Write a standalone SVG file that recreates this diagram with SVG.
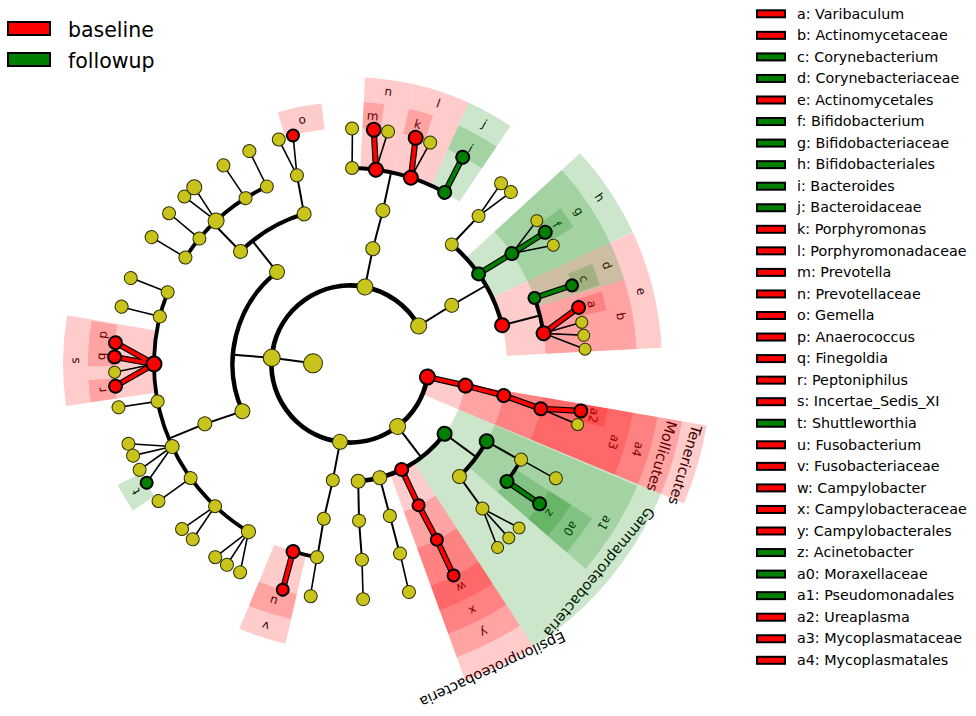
<svg xmlns="http://www.w3.org/2000/svg" width="976" height="716" viewBox="0 0 976 716">
<style>
text{font-family:"DejaVu Sans","Liberation Sans",Arial,sans-serif;fill:#000}
.lg{font-size:20.5px}
.le{font-size:14.3px}
.lb{font-size:12px;text-anchor:middle;dominant-baseline:central}
.cl{font-size:14.5px;text-anchor:middle;dominant-baseline:central}
.br{fill:#ff0000;stroke:#000;stroke-width:2}
.bg{fill:#008000;stroke:#000;stroke-width:2}
.wr{fill:none;stroke:#ff0000;stroke-opacity:.2}
.wg{fill:none;stroke:#008000;stroke-opacity:.2}
.w5{stroke-width:26}
.w4{stroke-width:91}
.w3{stroke-width:155}
.w2{stroke-width:219.5}
.w1{stroke-width:283.5}
.arc{fill:none;stroke:#000}
.e{stroke:#000;stroke-width:2}
.f{stroke:#000;stroke-width:1.6}
.k{stroke:#000;stroke-width:6.2}
.er{stroke:#ff0000;stroke-width:3.8}
.eg{stroke:#008000;stroke-width:3.8}
.ny{fill:#c9c41b;stroke:#2b2b00;stroke-width:1}
.nr{fill:#ff0000;stroke:#000;stroke-width:2}
.ng{fill:#008000;stroke:#000;stroke-width:2}
</style>
<rect width="976" height="716" fill="#fff"/>
<g id="legend-groups">
<rect class="br" x="8" y="22" width="42" height="13"/>
<text class="lg" x="68" y="36.5">baseline</text>
<rect class="bg" x="8" y="53" width="42" height="13"/>
<text class="lg" x="68" y="67.5">followup</text>
</g>
<g id="legend-clades">
<rect class="br" x="757" y="10.3" width="28" height="7"/><text class="le" x="797" y="18.5">a: Varibaculum</text>
<rect class="br" x="757" y="31.85" width="28" height="7"/><text class="le" x="797" y="40.05">b: Actinomycetaceae</text>
<rect class="bg" x="757" y="53.4" width="28" height="7"/><text class="le" x="797" y="61.6">c: Corynebacterium</text>
<rect class="bg" x="757" y="74.95" width="28" height="7"/><text class="le" x="797" y="83.15">d: Corynebacteriaceae</text>
<rect class="br" x="757" y="96.5" width="28" height="7"/><text class="le" x="797" y="104.7">e: Actinomycetales</text>
<rect class="bg" x="757" y="118.05" width="28" height="7"/><text class="le" x="797" y="126.25">f: Bifidobacterium</text>
<rect class="bg" x="757" y="139.6" width="28" height="7"/><text class="le" x="797" y="147.8">g: Bifidobacteriaceae</text>
<rect class="bg" x="757" y="161.15" width="28" height="7"/><text class="le" x="797" y="169.35">h: Bifidobacteriales</text>
<rect class="bg" x="757" y="182.7" width="28" height="7"/><text class="le" x="797" y="190.9">i: Bacteroides</text>
<rect class="bg" x="757" y="204.25" width="28" height="7"/><text class="le" x="797" y="212.45">j: Bacteroidaceae</text>
<rect class="br" x="757" y="225.8" width="28" height="7"/><text class="le" x="797" y="234">k: Porphyromonas</text>
<rect class="br" x="757" y="247.35" width="28" height="7"/><text class="le" x="797" y="255.55">l: Porphyromonadaceae</text>
<rect class="br" x="757" y="268.9" width="28" height="7"/><text class="le" x="797" y="277.1">m: Prevotella</text>
<rect class="br" x="757" y="290.45" width="28" height="7"/><text class="le" x="797" y="298.65">n: Prevotellaceae</text>
<rect class="br" x="757" y="312" width="28" height="7"/><text class="le" x="797" y="320.2">o: Gemella</text>
<rect class="br" x="757" y="333.55" width="28" height="7"/><text class="le" x="797" y="341.75">p: Anaerococcus</text>
<rect class="br" x="757" y="355.1" width="28" height="7"/><text class="le" x="797" y="363.3">q: Finegoldia</text>
<rect class="br" x="757" y="376.65" width="28" height="7"/><text class="le" x="797" y="384.85">r: Peptoniphilus</text>
<rect class="br" x="757" y="398.2" width="28" height="7"/><text class="le" x="797" y="406.4">s: Incertae_Sedis_XI</text>
<rect class="bg" x="757" y="419.75" width="28" height="7"/><text class="le" x="797" y="427.95">t: Shuttleworthia</text>
<rect class="br" x="757" y="441.3" width="28" height="7"/><text class="le" x="797" y="449.5">u: Fusobacterium</text>
<rect class="br" x="757" y="462.85" width="28" height="7"/><text class="le" x="797" y="471.05">v: Fusobacteriaceae</text>
<rect class="br" x="757" y="484.4" width="28" height="7"/><text class="le" x="797" y="492.6">w: Campylobacter</text>
<rect class="br" x="757" y="505.95" width="28" height="7"/><text class="le" x="797" y="514.15">x: Campylobacteraceae</text>
<rect class="br" x="757" y="527.5" width="28" height="7"/><text class="le" x="797" y="535.7">y: Campylobacterales</text>
<rect class="bg" x="757" y="549.05" width="28" height="7"/><text class="le" x="797" y="557.25">z: Acinetobacter</text>
<rect class="bg" x="757" y="570.6" width="28" height="7"/><text class="le" x="797" y="578.8">a0: Moraxellaceae</text>
<rect class="bg" x="757" y="592.15" width="28" height="7"/><text class="le" x="797" y="600.35">a1: Pseudomonadales</text>
<rect class="br" x="757" y="613.7" width="28" height="7"/><text class="le" x="797" y="621.9">a2: Ureaplasma</text>
<rect class="br" x="757" y="635.25" width="28" height="7"/><text class="le" x="797" y="643.45">a3: Mycoplasmataceae</text>
<rect class="br" x="757" y="656.8" width="28" height="7"/><text class="le" x="797" y="665">a4: Mycoplasmatales</text>
</g>
<g id="cladogram" transform="translate(350,364)">
<g id="labels">
<text class="lb" transform="rotate(346.1) translate(249,0) rotate(90)">a</text>
<text class="lb" transform="rotate(340) translate(249,0) rotate(90)">c</text>
<text class="lb" transform="rotate(326) translate(249,0) rotate(90)">f</text>
<text class="lb" transform="rotate(299.25) translate(247,0) rotate(90)">i</text>
<text class="lb" transform="rotate(285.75) translate(249,0) rotate(90)">k</text>
<text class="lb" transform="rotate(275.25) translate(249,0) rotate(90)">m</text>
<text class="lb" transform="rotate(258.9) translate(249,0) rotate(90)">o</text>
<text class="lb" transform="rotate(186.75) translate(249,0) rotate(90)">p</text>
<text class="lb" transform="rotate(181.75) translate(249,0) rotate(90)">q</text>
<text class="lb" transform="rotate(174) translate(249,0) rotate(90)">r</text>
<text class="lb" transform="rotate(149.25) translate(249,0) rotate(90)">t</text>
<text class="lb" transform="rotate(107.85) translate(249,0) rotate(90)">u</text>
<text class="lb" transform="rotate(63.5) translate(249,0) rotate(90)">w</text>
<text class="lb" transform="rotate(36.75) translate(249,0) rotate(90)">z</text>
<text class="lb" transform="rotate(11.9) translate(249,0) rotate(90)">a2</text>
<text class="lb" transform="rotate(350) translate(275,0) rotate(90)">b</text>
<text class="lb" transform="rotate(339) translate(275,0) rotate(90)">d</text>
<text class="lb" transform="rotate(326.25) translate(275,0) rotate(90)">g</text>
<text class="lb" transform="rotate(299.25) translate(275,0) rotate(90)">j</text>
<text class="lb" transform="rotate(288.75) translate(275,0) rotate(90)">l</text>
<text class="lb" transform="rotate(278) translate(275,0) rotate(90)">n</text>
<text class="lb" transform="rotate(180.7) translate(275,0) rotate(90)">s</text>
<text class="lb" transform="rotate(107.85) translate(275,0) rotate(90)">v</text>
<text class="lb" transform="rotate(63.5) translate(275,0) rotate(90)">x</text>
<text class="lb" transform="rotate(36.75) translate(275,0) rotate(90)">a0</text>
<text class="lb" transform="rotate(16.5) translate(275,0) rotate(90)">a3</text>
<text class="lb" transform="rotate(346) translate(300,0) rotate(90)">e</text>
<text class="lb" transform="rotate(326.25) translate(300,0) rotate(90)">h</text>
<text class="lb" transform="rotate(63.5) translate(300,0) rotate(90)">y</text>
<text class="lb" transform="rotate(32) translate(300,0) rotate(90)">a1</text>
<text class="lb" transform="rotate(16.5) translate(300,0) rotate(90)">a4</text>
<text class="cl" transform="rotate(16.5) translate(325,0) rotate(90)">Mollicutes</text>
<text class="cl" transform="rotate(16.8) translate(350,0) rotate(90)">Tenericutes</text>
<text class="cl" transform="rotate(39.9) translate(325,0) rotate(90)">Gammaproteobacteria</text>
<text class="cl" transform="rotate(65) translate(337,0) rotate(90)">Epsilonproteobacteria</text>
</g>
<g id="wedges">
<circle class="wr w1" r="220.25" stroke-dasharray="49.59 2000" transform="rotate(9.8)"/>
<circle class="wr w2" r="227.25" stroke-dasharray="51.17 2000" transform="rotate(9.8)"/>
<circle class="wr w3" r="234.5" stroke-dasharray="52.80 2000" transform="rotate(9.8)"/>
<circle class="wr w4" r="241.5" stroke-dasharray="54.37 2000" transform="rotate(9.8)"/>
<circle class="wr w5" r="249" stroke-dasharray="18.25 2000" transform="rotate(9.8)"/>
<circle class="wr w2" r="227.25" stroke-dasharray="51.56 2000" transform="rotate(57)"/>
<circle class="wr w3" r="234.5" stroke-dasharray="53.21 2000" transform="rotate(57)"/>
<circle class="wr w4" r="241.5" stroke-dasharray="54.80 2000" transform="rotate(57)"/>
<circle class="wr w5" r="249" stroke-dasharray="56.50 2000" transform="rotate(57)"/>
<circle class="wr w4" r="241.5" stroke-dasharray="40.89 2000" transform="rotate(103)"/>
<circle class="wr w5" r="249" stroke-dasharray="42.15 2000" transform="rotate(103)"/>
<circle class="wr w4" r="241.5" stroke-dasharray="76.71 2000" transform="rotate(171.6)"/>
<circle class="wr w5" r="249" stroke-dasharray="21.29 2000" transform="rotate(171.6)"/>
<circle class="wr w5" r="249" stroke-dasharray="19.56 2000" transform="rotate(179.5)"/>
<circle class="wr w5" r="249" stroke-dasharray="23.90 2000" transform="rotate(184)"/>
<circle class="wr w5" r="249" stroke-dasharray="42.59 2000" transform="rotate(254)"/>
<circle class="wr w4" r="241.5" stroke-dasharray="42.15 2000" transform="rotate(273)"/>
<circle class="wr w5" r="249" stroke-dasharray="19.56 2000" transform="rotate(273)"/>
<circle class="wr w4" r="241.5" stroke-dasharray="48.47 2000" transform="rotate(283)"/>
<circle class="wr w5" r="249" stroke-dasharray="23.90 2000" transform="rotate(283)"/>
<circle class="wr w3" r="234.5" stroke-dasharray="90.04 2000" transform="rotate(335)"/>
<circle class="wr w4" r="241.5" stroke-dasharray="59.01 2000" transform="rotate(343)"/>
<circle class="wr w5" r="249" stroke-dasharray="18.25 2000" transform="rotate(344)"/>
<circle class="wg w2" r="227.25" stroke-dasharray="136.04 2000" transform="rotate(22.7)"/>
<circle class="wg w3" r="234.5" stroke-dasharray="73.67 2000" transform="rotate(23)"/>
<circle class="wg w4" r="241.5" stroke-dasharray="35.83 2000" transform="rotate(32.5)"/>
<circle class="wg w5" r="249" stroke-dasharray="36.94 2000" transform="rotate(32.5)"/>
<circle class="wg w5" r="249" stroke-dasharray="28.25 2000" transform="rotate(146)"/>
<circle class="wg w4" r="241.5" stroke-dasharray="40.04 2000" transform="rotate(294.5)"/>
<circle class="wg w5" r="249" stroke-dasharray="41.29 2000" transform="rotate(294.5)"/>
<circle class="wg w3" r="234.5" stroke-dasharray="71.62 2000" transform="rotate(317.5)"/>
<circle class="wg w4" r="241.5" stroke-dasharray="73.76 2000" transform="rotate(317.5)"/>
<circle class="wg w5" r="249" stroke-dasharray="21.73 2000" transform="rotate(323.5)"/>
<circle class="wg w4" r="241.5" stroke-dasharray="33.72 2000" transform="rotate(335)"/>
<circle class="wg w5" r="249" stroke-dasharray="21.73 2000" transform="rotate(337.5)"/>
</g>
<g id="connectors">
<circle class="arc" r="78.5" stroke-width="4.8" stroke-dasharray="440.48 2000" transform="rotate(9.5)"/>
<circle class="arc" r="117.5" stroke-width="4.4" stroke-dasharray="154.42 2000" transform="rotate(156.3)"/>
<circle class="arc" r="117.5" stroke-width="4.4" stroke-dasharray="101.72 2000" transform="rotate(36.4)"/>
<circle class="arc" r="157" stroke-width="4.2" stroke-dasharray="74.53 2000" transform="rotate(225.8)"/>
<circle class="arc" r="157" stroke-width="4.2" stroke-dasharray="96.73 2000" transform="rotate(310.4)"/>
<circle class="arc" r="157" stroke-width="4.2" stroke-dasharray="44.66 2000" transform="rotate(29.5)"/>
<circle class="arc" r="196" stroke-width="3.8" stroke-dasharray="109.47 2000" transform="rotate(212.9)"/>
<circle class="arc" r="196" stroke-width="3.8" stroke-dasharray="274.69 2000" transform="rotate(121.2)"/>
<circle class="arc" r="196" stroke-width="3.8" stroke-dasharray="96.81 2000" transform="rotate(270.6)"/>
<circle class="arc" r="196" stroke-width="3.8" stroke-dasharray="36.60 2000" transform="rotate(340.3)"/>
<circle class="arc" r="196" stroke-width="3.8" stroke-dasharray="26.0 2000" transform="rotate(29.2)"/>
<circle class="arc" r="196" stroke-width="3.8" stroke-dasharray="25.31 2000" transform="rotate(99.5)"/>
<g class="e">
<line x1="37" x2="78.35" y2="4.79" transform="rotate(181)"/>
<line x1="78.5" x2="117.5" transform="rotate(184.5)"/>
<line x1="117.5" x2="157" transform="rotate(231.6)"/>
<line x1="157" x2="196" transform="rotate(225.8)"/>
<line x1="157" x2="195.95" y2="4.45" transform="rotate(253)"/>
<line x1="117.5" x2="156.96" y2="3.56" transform="rotate(156.3)"/>
<line x1="157" x2="196" transform="rotate(157.6)"/>
<line x1="78.5" x2="117.5" y2="0.41" transform="rotate(281)"/>
<line x1="117.5" x2="156.98" y2="2.47" transform="rotate(281.2)"/>
<line x1="157" x2="196" transform="rotate(282.1)"/>
<line x1="78.5" x2="117.48" y2="-2.05" transform="rotate(331)"/>
<line x1="117.5" x2="157" transform="rotate(330)"/>
<line x1="157" x2="195.99" y2="2.05" transform="rotate(310.4)"/>
<line x1="157" x2="196" transform="rotate(345.7)"/>
<line x1="78.5" x2="117.5" transform="rotate(52.7)"/>
<line x1="117.5" x2="157" transform="rotate(36.4)"/>
<line x1="157" x2="196" transform="rotate(29.5)"/>
<line x1="157" x2="195.91" y2="5.81" transform="rotate(45.8)"/>
<line x1="117.5" x2="196" transform="rotate(75.3)"/>
<line x1="117.5" x2="156.99" y2="1.92" transform="rotate(86)"/>
<line x1="157" x2="196" y2="-0.68" transform="rotate(86.7)"/>
<line x1="78.5" x2="117.48" y2="2.26" transform="rotate(97.3)"/>
<line x1="117.5" x2="156.97" y2="3.29" transform="rotate(98.4)"/>
<line x1="157" x2="196" transform="rotate(99.6)"/>
</g>
<g class="f">
<line x1="196" x2="235.5" y2="-1.23" transform="rotate(212.9)"/>
<line x1="196" x2="235.5" transform="rotate(219.8)"/>
<line x1="196" x2="235.41" y2="-6.58" transform="rotate(226.9)"/>
<line x1="196" x2="235.4" y2="6.99" transform="rotate(226.9)"/>
<line x1="196" x2="235.5" y2="-1.23" transform="rotate(237.8)"/>
<line x1="196" x2="235.5" y2="-0.82" transform="rotate(244.9)"/>
<line x1="196" x2="235.37" y2="-7.81" transform="rotate(254.3)"/>
<line x1="196" x2="235.4" y2="6.99" transform="rotate(254.3)"/>
<line x1="196" x2="235.5" transform="rotate(201.5)"/>
<line x1="196" x2="235.5" transform="rotate(194)"/>
<line x1="196" x2="235.36" y2="-8.22" transform="rotate(180)"/>
<line x1="196" x2="235.5" y2="1.64" transform="rotate(169)"/>
<line x1="196" x2="234.57" y2="20.93" transform="rotate(155.1)"/>
<line x1="196" x2="235.36" y2="8.22" transform="rotate(155.1)"/>
<line x1="196" x2="235.38" y2="-7.4" transform="rotate(155.1)"/>
<line x1="196" x2="234.45" y2="-22.16" transform="rotate(155.1)"/>
<line x1="196" x2="235.5" transform="rotate(144.4)"/>
<line x1="196" x2="235.36" y2="8.22" transform="rotate(133.5)"/>
<line x1="196" x2="235.41" y2="-6.58" transform="rotate(133.5)"/>
<line x1="196" x2="235.01" y2="15.2" transform="rotate(121.2)"/>
<line x1="196" x2="235.49" y2="1.23" transform="rotate(121.2)"/>
<line x1="196" x2="235.09" y2="-13.97" transform="rotate(121.2)"/>
<line x1="196" x2="235.5" transform="rotate(270.6)"/>
<line x1="196" x2="235.4" y2="6.99" transform="rotate(277.6)"/>
<line x1="196" x2="235.38" y2="7.4" transform="rotate(288.1)"/>
<line x1="196" x2="235.46" y2="-4.52" transform="rotate(311)"/>
<line x1="196" x2="235.34" y2="8.63" transform="rotate(311)"/>
<line x1="196" x2="235.13" y2="-13.15" transform="rotate(325.7)"/>
<line x1="196" x2="234.93" y2="16.43" transform="rotate(325.7)"/>
<line x1="196" x2="235.45" y2="-4.93" transform="rotate(351)"/>
<line x1="196" x2="235.36" y2="8.22" transform="rotate(351)"/>
<line x1="196" x2="234.45" y2="22.16" transform="rotate(351)"/>
<line x1="196" x2="235.4" y2="6.99" transform="rotate(13.2)"/>
<line x1="196" x2="235.5" transform="rotate(29.2)"/>
<line x1="196" x2="235.09" y2="-13.97" transform="rotate(47.5)"/>
<line x1="196" x2="235.5" y2="0.41" transform="rotate(47.5)"/>
<line x1="196" x2="235.01" y2="15.2" transform="rotate(47.5)"/>
<line x1="196" x2="235.5" y2="1.23" transform="rotate(75.2)"/>
<line x1="196" x2="235.5" y2="1.23" transform="rotate(86.5)"/>
<line x1="196" x2="235.5" transform="rotate(99.7)"/>
</g>
<g class="k">
<line x1="78.5" x2="117.48" y2="2.26" transform="rotate(9.5)"/>
<line x1="117.5" x2="156.98" y2="2.74" transform="rotate(10.6)"/>
<line x1="157" x2="195.92" y2="5.47" transform="rotate(11.6)"/>
<line x1="196" x2="235.4" y2="-6.99" transform="rotate(13.2)"/>
<line x1="117.5" x2="157" y2="0.55" transform="rotate(63.9)"/>
<line x1="157" x2="196" y2="-1.37" transform="rotate(64.1)"/>
<line x1="196" x2="235.5" y2="0.82" transform="rotate(63.7)"/>
<line x1="196" x2="235.5" y2="-1.23" transform="rotate(106.9)"/>
<line x1="196" x2="235.38" y2="-7.4" transform="rotate(277.6)"/>
<line x1="196" x2="235.37" y2="-7.81" transform="rotate(288.1)"/>
<line x1="196" x2="234.64" y2="-20.12" transform="rotate(351)"/>
<line x1="196" x2="234.53" y2="21.34" transform="rotate(180)"/>
<line x1="196" x2="235.4" y2="6.99" transform="rotate(180)"/>
<line x1="196" x2="234.45" y2="-22.16" transform="rotate(180)"/>
<line x1="157" x2="195.99" y2="2.39" transform="rotate(325)"/>
<line x1="196" x2="235.5" y2="1.23" transform="rotate(325.7)"/>
<line x1="196" x2="235.5" y2="0.82" transform="rotate(340.3)"/>
<line x1="196" x2="235.5" y2="-1.23" transform="rotate(298.9)"/>
<line x1="196" x2="235.5" y2="-1.64" transform="rotate(36.8)"/>
</g>
<g class="er">
<line x1="78.5" x2="117.48" y2="2.26" transform="rotate(9.5)"/>
<line x1="117.5" x2="156.98" y2="2.74" transform="rotate(10.6)"/>
<line x1="157" x2="195.92" y2="5.47" transform="rotate(11.6)"/>
<line x1="196" x2="235.4" y2="-6.99" transform="rotate(13.2)"/>
<line x1="117.5" x2="157" y2="0.55" transform="rotate(63.9)"/>
<line x1="157" x2="196" y2="-1.37" transform="rotate(64.1)"/>
<line x1="196" x2="235.5" y2="0.82" transform="rotate(63.7)"/>
<line x1="196" x2="235.5" y2="-1.23" transform="rotate(106.9)"/>
<line x1="196" x2="235.38" y2="-7.4" transform="rotate(277.6)"/>
<line x1="196" x2="235.37" y2="-7.81" transform="rotate(288.1)"/>
<line x1="196" x2="234.64" y2="-20.12" transform="rotate(351)"/>
<line x1="196" x2="234.53" y2="21.34" transform="rotate(180)"/>
<line x1="196" x2="235.4" y2="6.99" transform="rotate(180)"/>
<line x1="196" x2="234.45" y2="-22.16" transform="rotate(180)"/>
</g>
<g class="eg">
<line x1="157" x2="195.99" y2="2.39" transform="rotate(325)"/>
<line x1="196" x2="235.5" y2="1.23" transform="rotate(325.7)"/>
<line x1="196" x2="235.5" y2="0.82" transform="rotate(340.3)"/>
<line x1="196" x2="235.5" y2="-1.23" transform="rotate(298.9)"/>
<line x1="196" x2="235.5" y2="-1.64" transform="rotate(36.8)"/>
</g>
</g>
<g id="nodes">
<g id="root"><circle class="ny" cx="37" r="9.5" transform="rotate(181)"/></g>
<g id="p_firmicutes"><circle class="ny" cx="78.5" r="8.5" transform="rotate(184.5)"/></g>
<g id="p_bacteroidetes"><circle class="ny" cx="78.5" r="8" transform="rotate(281)"/></g>
<g id="p_actinobacteria"><circle class="ny" cx="78.5" r="8" transform="rotate(331)"/></g>
<g id="p_tenericutes"><circle class="nr" cx="78.5" r="7.5" transform="rotate(9.5)"/></g>
<g id="p_proteobacteria"><circle class="ny" cx="78.5" r="8" transform="rotate(52.7)"/></g>
<g id="p_fusobacteria"><circle class="ny" cx="78.5" r="7.5" transform="rotate(97.3)"/></g>
<g id="c_bacilli"><circle class="ny" cx="117.5" r="7.5" transform="rotate(231.6)"/></g>
<g id="c_clostridia"><circle class="ny" cx="117.5" r="7.5" transform="rotate(156.3)"/></g>
<g id="c_bacteroidia"><circle class="ny" cx="117.5" r="7" transform="rotate(281.2)"/></g>
<g id="c_actinobacteria"><circle class="ny" cx="117.5" r="7" transform="rotate(330)"/></g>
<g id="c_mollicutes"><circle class="nr" cx="117.5" r="7" transform="rotate(10.6)"/></g>
<g id="c_gamma"><circle class="ng" cx="117.5" r="7" transform="rotate(36.4)"/></g>
<g id="c_epsilon"><circle class="nr" cx="117.5" r="6.5" transform="rotate(63.9)"/></g>
<g id="c_prot3"><circle class="ny" cx="117.5" r="7" transform="rotate(75.3)"/></g>
<g id="c_prot4"><circle class="ny" cx="117.5" r="7" transform="rotate(86)"/></g>
<g id="c_fuso"><circle class="ny" cx="117.5" r="6.5" transform="rotate(98.4)"/></g>
<g id="o_lacto"><circle class="ny" cx="157" r="7" transform="rotate(225.8)"/></g>
<g id="o_gemellales"><circle class="ny" cx="157" r="7" transform="rotate(253)"/></g>
<g id="o_clostridiales"><circle class="ny" cx="157" r="7" transform="rotate(157.6)"/></g>
<g id="o_bacteroidales"><circle class="ny" cx="157" r="7" transform="rotate(282.1)"/></g>
<g id="o_act0"><circle class="ny" cx="157" r="6.5" transform="rotate(310.4)"/></g>
<g id="o_h"><circle class="ng" cx="157" r="6.5" transform="rotate(325)"/></g>
<g id="o_e"><circle class="nr" cx="157" r="7" transform="rotate(345.7)"/></g>
<g id="o_a4"><circle class="nr" cx="157" r="6.5" transform="rotate(11.6)"/></g>
<g id="o_a1"><circle class="ng" cx="157" r="7" transform="rotate(29.5)"/></g>
<g id="o_gam2"><circle class="ny" cx="157" r="7" transform="rotate(45.8)"/></g>
<g id="o_y"><circle class="nr" cx="157" r="6" transform="rotate(64.1)"/></g>
<g id="o_p3"><circle class="ny" cx="157" r="6.5" transform="rotate(75.3)"/></g>
<g id="o_p4"><circle class="ny" cx="157" r="6.5" transform="rotate(86.7)"/></g>
<g id="o_fuso"><circle class="ny" cx="157" r="6.5" transform="rotate(99.6)"/></g>
<g id="f_l1"><circle class="ny" cx="196" r="6.5" transform="rotate(212.9)"/></g>
<g id="f_l2"><circle class="ny" cx="196" r="6.5" transform="rotate(219.8)"/></g>
<g id="f_l3"><circle class="ny" cx="196" r="8" transform="rotate(226.9)"/></g>
<g id="f_l4"><circle class="ny" cx="196" r="6.5" transform="rotate(237.8)"/></g>
<g id="f_l5"><circle class="ny" cx="196" r="6.5" transform="rotate(244.9)"/></g>
<g id="f_gem"><circle class="ny" cx="196" r="6.5" transform="rotate(254.3)"/></g>
<g id="f_c1"><circle class="ny" cx="196" r="6.5" transform="rotate(201.5)"/></g>
<g id="f_c2"><circle class="ny" cx="196" r="6.5" transform="rotate(194)"/></g>
<g id="f_s"><circle class="nr" cx="196" r="7.5" transform="rotate(180)"/></g>
<g id="f_c4"><circle class="ny" cx="196" r="6.5" transform="rotate(169)"/></g>
<g id="f_c5"><circle class="ny" cx="196" r="7" transform="rotate(155.1)"/></g>
<g id="f_c6"><circle class="ny" cx="196" r="6.5" transform="rotate(144.4)"/></g>
<g id="f_c7"><circle class="ny" cx="196" r="6.5" transform="rotate(133.5)"/></g>
<g id="f_c8"><circle class="ny" cx="196" r="7" transform="rotate(121.2)"/></g>
<g id="f_b0"><circle class="ny" cx="196" r="6.5" transform="rotate(270.6)"/></g>
<g id="f_n"><circle class="nr" cx="196" r="7" transform="rotate(277.6)"/></g>
<g id="f_l"><circle class="nr" cx="196" r="7" transform="rotate(288.1)"/></g>
<g id="f_j"><circle class="ng" cx="196" r="6.5" transform="rotate(298.9)"/></g>
<g id="f_a0x"><circle class="ny" cx="196" r="6.5" transform="rotate(311)"/></g>
<g id="f_g"><circle class="ng" cx="196" r="6.5" transform="rotate(325.7)"/></g>
<g id="f_d"><circle class="ng" cx="196" r="6" transform="rotate(340.3)"/></g>
<g id="f_b"><circle class="nr" cx="196" r="7" transform="rotate(351)"/></g>
<g id="f_a3"><circle class="nr" cx="196" r="6.5" transform="rotate(13.2)"/></g>
<g id="f_p1"><circle class="ny" cx="196" r="6.5" transform="rotate(29.2)"/></g>
<g id="f_a0"><circle class="ng" cx="196" r="6.5" transform="rotate(36.8)"/></g>
<g id="f_p2"><circle class="ny" cx="196" r="6.5" transform="rotate(47.5)"/></g>
<g id="f_x"><circle class="nr" cx="196" r="6" transform="rotate(63.7)"/></g>
<g id="f_p3"><circle class="ny" cx="196" r="6.5" transform="rotate(75.2)"/></g>
<g id="f_p4"><circle class="ny" cx="196" r="6.5" transform="rotate(86.5)"/></g>
<g id="f_fu1"><circle class="ny" cx="196" r="6.5" transform="rotate(99.7)"/></g>
<g id="f_v"><circle class="nr" cx="196" r="6.5" transform="rotate(106.9)"/></g>
<g id="g_1"><circle class="ny" cx="235.5" r="6.5" transform="rotate(212.6)"/></g>
<g id="g_2"><circle class="ny" cx="235.5" r="6.5" transform="rotate(219.8)"/></g>
<g id="g_3"><circle class="ny" cx="235.5" r="6.5" transform="rotate(225.3)"/></g>
<g id="g_4"><circle class="ny" cx="235.5" r="7.5" transform="rotate(228.6)"/></g>
<g id="g_5"><circle class="ny" cx="235.5" r="6.5" transform="rotate(237.5)"/></g>
<g id="g_6"><circle class="ny" cx="235.5" r="6.5" transform="rotate(244.7)"/></g>
<g id="g_7"><circle class="ny" cx="235.5" r="6.5" transform="rotate(252.4)"/></g>
<g id="g_o"><circle class="nr" cx="235.5" r="6" transform="rotate(256)"/></g>
<g id="g_8"><circle class="ny" cx="235.5" r="6.5" transform="rotate(201.4)"/></g>
<g id="g_9"><circle class="ny" cx="235.5" r="6.5" transform="rotate(194.1)"/></g>
<g id="g_p"><circle class="nr" cx="235.5" r="6.5" transform="rotate(185.2)"/></g>
<g id="g_q"><circle class="nr" cx="235.5" r="6.5" transform="rotate(181.7)"/></g>
<g id="g_10"><circle class="ny" cx="235.5" r="6" transform="rotate(178)"/></g>
<g id="g_r"><circle class="nr" cx="235.5" r="6.5" transform="rotate(174.6)"/></g>
<g id="g_11"><circle class="ny" cx="235.5" r="6.5" transform="rotate(169.4)"/></g>
<g id="g_12"><circle class="ny" cx="235.5" r="6.5" transform="rotate(160.2)"/></g>
<g id="g_13"><circle class="ny" cx="235.5" r="6.5" transform="rotate(157.1)"/></g>
<g id="g_14"><circle class="ny" cx="235.5" r="6.5" transform="rotate(153.3)"/></g>
<g id="g_t"><circle class="ng" cx="235.5" r="6" transform="rotate(149.7)"/></g>
<g id="g_15"><circle class="ny" cx="235.5" r="6.5" transform="rotate(144.4)"/></g>
<g id="g_16"><circle class="ny" cx="235.5" r="6.5" transform="rotate(135.5)"/></g>
<g id="g_17"><circle class="ny" cx="235.5" r="6.5" transform="rotate(131.9)"/></g>
<g id="g_18"><circle class="ny" cx="235.5" r="6.5" transform="rotate(124.9)"/></g>
<g id="g_19"><circle class="ny" cx="235.5" r="6.5" transform="rotate(121.5)"/></g>
<g id="g_20"><circle class="ny" cx="235.5" r="6.5" transform="rotate(117.8)"/></g>
<g id="g_21"><circle class="ny" cx="235.5" r="6.5" transform="rotate(270.5)"/></g>
<g id="g_m"><circle class="nr" cx="235.5" r="7" transform="rotate(275.8)"/></g>
<g id="g_22"><circle class="ny" cx="235.5" r="6.5" transform="rotate(279.3)"/></g>
<g id="g_k"><circle class="nr" cx="235.5" r="7" transform="rotate(286.2)"/></g>
<g id="g_23"><circle class="ny" cx="235.5" r="6.5" transform="rotate(289.9)"/></g>
<g id="g_i"><circle class="ng" cx="235.5" r="6.5" transform="rotate(298.6)"/></g>
<g id="g_24"><circle class="ny" cx="235.5" r="6.5" transform="rotate(309.9)"/></g>
<g id="g_25"><circle class="ny" cx="235.5" r="6.5" transform="rotate(313.1)"/></g>
<g id="g_f"><circle class="ng" cx="235.5" r="6.5" transform="rotate(326)"/></g>
<g id="g_26"><circle class="ny" cx="235.5" r="6" transform="rotate(322.5)"/></g>
<g id="g_27"><circle class="ny" cx="235.5" r="6" transform="rotate(329.7)"/></g>
<g id="g_c"><circle class="ng" cx="235.5" r="6" transform="rotate(340.5)"/></g>
<g id="g_a"><circle class="nr" cx="235.5" r="6.5" transform="rotate(346.1)"/></g>
<g id="g_28"><circle class="ny" cx="235.5" r="6" transform="rotate(349.8)"/></g>
<g id="g_29"><circle class="ny" cx="235.5" r="6" transform="rotate(353)"/></g>
<g id="g_30"><circle class="ny" cx="235.5" r="6" transform="rotate(356.4)"/></g>
<g id="g_a2"><circle class="nr" cx="235.5" r="6.5" transform="rotate(11.5)"/></g>
<g id="g_31"><circle class="ny" cx="235.5" r="6" transform="rotate(14.9)"/></g>
<g id="g_32"><circle class="ny" cx="235.5" r="6.5" transform="rotate(29.05)"/></g>
<g id="g_z"><circle class="ng" cx="235.5" r="6.5" transform="rotate(36.4)"/></g>
<g id="g_33"><circle class="ny" cx="235.5" r="6" transform="rotate(44.1)"/></g>
<g id="g_34"><circle class="ny" cx="235.5" r="6" transform="rotate(47.6)"/></g>
<g id="g_35"><circle class="ny" cx="235.5" r="6" transform="rotate(51.2)"/></g>
<g id="g_w"><circle class="nr" cx="235.5" r="6" transform="rotate(63.9)"/></g>
<g id="g_36"><circle class="ny" cx="235.5" r="6.5" transform="rotate(75.5)"/></g>
<g id="g_37"><circle class="ny" cx="235.5" r="6.5" transform="rotate(86.8)"/></g>
<g id="g_38"><circle class="ny" cx="235.5" r="6.5" transform="rotate(99.6)"/></g>
<g id="g_u"><circle class="nr" cx="235.5" r="6" transform="rotate(106.6)"/></g>
</g>
</g>
</svg>
